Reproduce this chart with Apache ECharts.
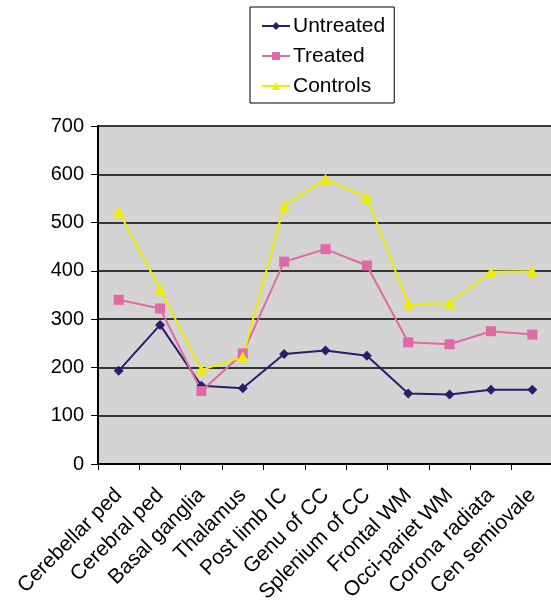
<!DOCTYPE html>
<html>
<head>
<meta charset="utf-8">
<script src="https://cdn.jsdelivr.net/npm/echarts@6/dist/echarts.min.js"></script>
<style>html,body{margin:0;padding:0;background:#fff;}#c{width:551px;height:600px;}</style>
</head>
<body>
<div id="c"></div>
<script>
const categories = ["Cerebellar ped","Cerebral ped","Basal ganglia","Thalamus","Post limb IC","Genu of CC","Splenium of CC","Frontal WM","Occi-pariet WM","Corona radiata","Cen semiovale"];
const untreated = [193, 288, 162, 157, 228, 235, 224, 146, 144, 154, 154];
const treated = [340, 322, 151, 229, 419, 445, 411, 252, 248, 275, 268];
const controls = [523, 362, 195, 222, 535, 590, 552, 331, 333, 398, 399];
const yTicks = [0, 100, 200, 300, 400, 500, 600, 700];

const font = "'Liberation Sans', Arial, Helvetica, sans-serif";
const chart = echarts.init(document.getElementById('c'), null, {renderer: 'canvas'});
chart.setOption({
  animation: false,
  backgroundColor: '#fff',
  legend: {
    orient: 'vertical',
    left: 250, top: 7,
    padding: [8, 9, 6, 11],
    borderColor: '#000', borderWidth: 1,
    itemWidth: 28, itemHeight: 10, itemGap: 8,
    textStyle: {fontFamily: font, fontSize: 21, color: '#000', lineHeight: 22, padding: [0,0,0,-2]},
    data: ['Untreated', 'Treated', 'Controls']
  },
  grid: {
    left: 98, right: -2, top: 126, bottom: 136,
    outerBoundsMode: 'none', containLabel: false,
    show: true, backgroundColor: '#d4d4d4', borderWidth: 0
  },
  xAxis: {
    type: 'category', data: categories, boundaryGap: true,
    axisLine: {lineStyle: {color: '#000', width: 2}},
    axisTick: {show: true, alignWithLabel: false, inside: false, length: 6, lineStyle: {color: '#000', width: 1}},
    axisLabel: {rotate: 45, fontFamily: font, fontSize: 21, color: '#000', margin: 28, interval: 0}
  },
  yAxis: {
    type: 'value', min: yTicks[0], max: yTicks[yTicks.length-1], interval: 100,
    axisLine: {show: true, lineStyle: {color: '#000', width: 2}},
    axisTick: {show: true, length: 7, lineStyle: {color: '#000', width: 1}},
    axisLabel: {fontFamily: font, fontSize: 20, color: '#000', margin: 14},
    splitLine: {show: true, lineStyle: {color: '#000', width: 1.5}}
  },
  series: [
    {name: 'Untreated', type: 'line', data: untreated, symbol: 'diamond', symbolSize: 10,
     itemStyle: {color: '#2f1a6c'}, lineStyle: {color: '#2f1a6c', width: 2}},
    {name: 'Treated', type: 'line', data: treated, symbol: 'rect', symbolSize: 10,
     itemStyle: {color: '#e06aa3'}, lineStyle: {color: '#e06aa3', width: 2}},
    {name: 'Controls', type: 'line', data: controls, symbol: 'triangle', symbolSize: 11,
     itemStyle: {color: '#eeee00'}, lineStyle: {color: '#eeee00', width: 2}}
  ]
});
</script>
</body>
</html>
